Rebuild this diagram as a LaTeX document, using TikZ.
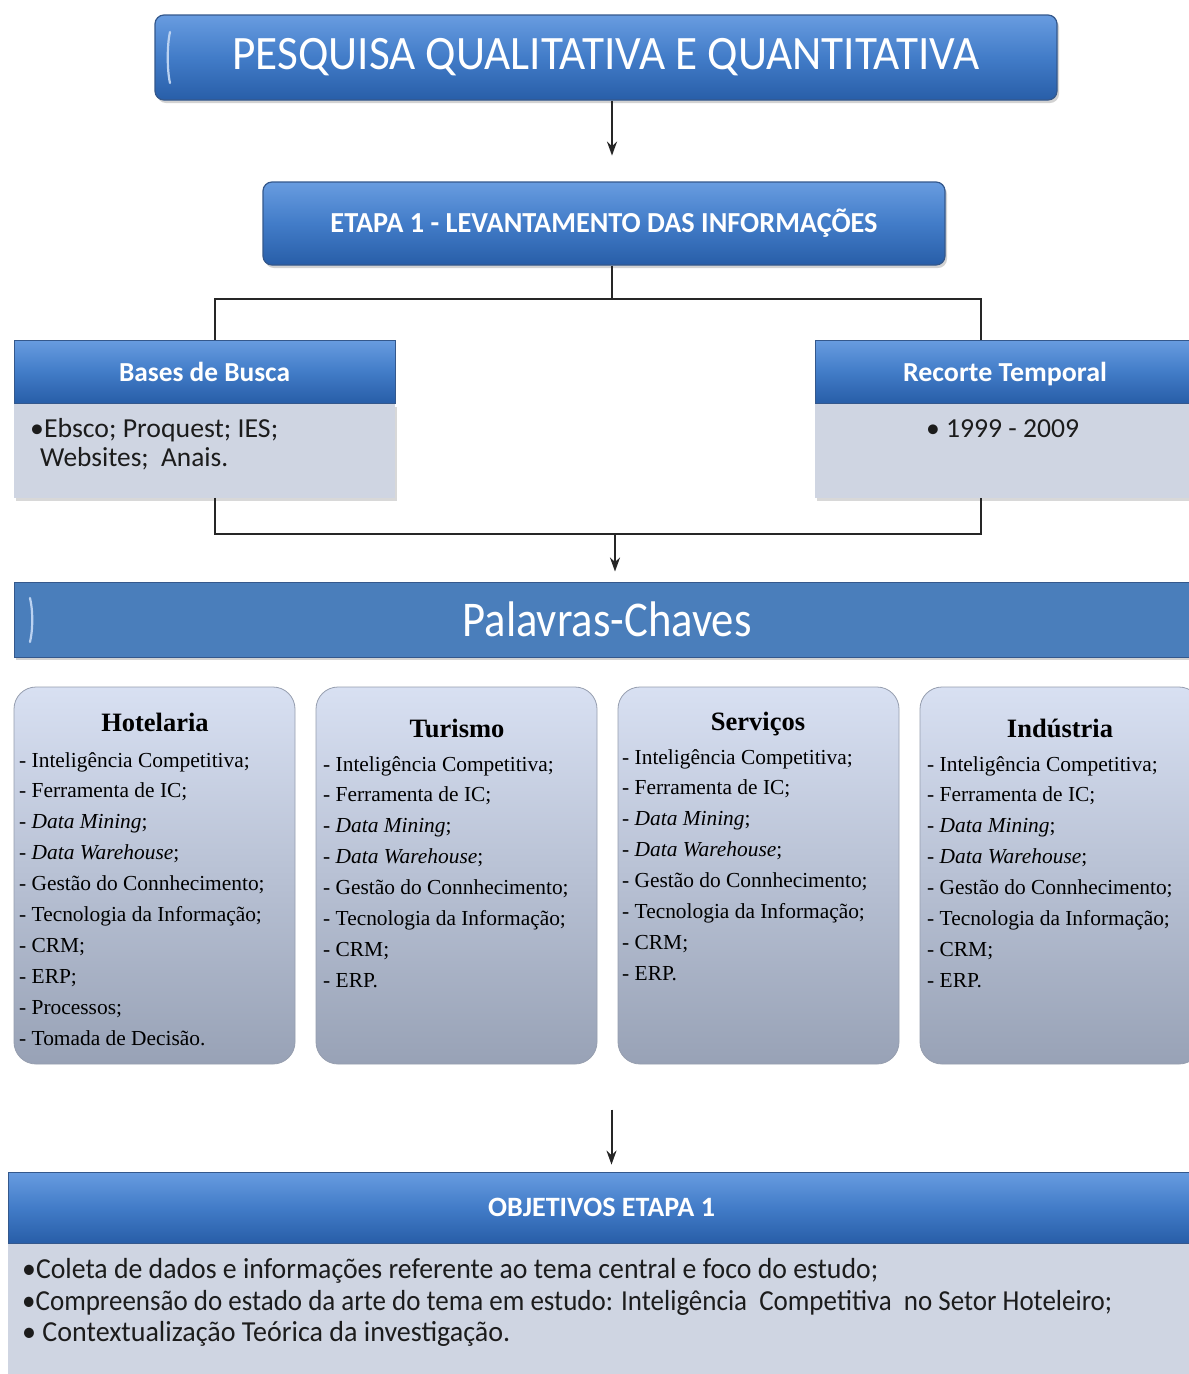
\documentclass[tikz,border=0pt]{standalone}
\usepackage{fontspec}
\usepackage{graphicx}
\setmainfont{Liberation Serif}
\newfontfamily\calfont{Carlito}
\usetikzlibrary{shadows,arrows.meta,calc}
\definecolor{hdtop}{RGB}{104,156,224}
\definecolor{hdmid}{RGB}{66,124,200}
\definecolor{hdbot}{RGB}{40,94,168}
\definecolor{hdedge}{RGB}{52,88,140}
\definecolor{palc}{RGB}{74,126,187}
\definecolor{bodyc}{RGB}{207,213,226}
\definecolor{kwtop}{RGB}{216,224,242}
\definecolor{kwbot}{RGB}{152,162,182}
\definecolor{kwedge}{RGB}{150,158,175}
\definecolor{txtc}{RGB}{28,28,28}
\newcommand\wfit[2]{\resizebox{#1pt}{\height}{#2}}
\newcommand\kwlist[1]{\vtop{\baselineskip=30.9pt\lineskiplimit=-100pt\relax #1}}
\newcommand\li[1]{\hbox{- #1}}
\begin{document}
\begin{tikzpicture}[x=1pt,y=-1pt,
  bigbox/.style={rounded corners=9pt, top color=hdtop, bottom color=hdbot, middle color=hdmid, draw=hdedge, line width=1.2pt, inner sep=0,
     drop shadow={opacity=0.35, shadow xshift=2pt, shadow yshift=-3pt}, text=white},
  hdr/.style={rectangle, top color=hdtop, bottom color=hdbot, middle color=hdmid, draw=hdedge, line width=0.8pt, inner sep=0, text=white, text depth=0pt},
  bodybox/.style={rectangle, fill=bodyc, inner sep=0, drop shadow={opacity=0.3, shadow xshift=2pt, shadow yshift=-3pt}},
  kwbox/.style={rounded corners=22pt, top color=kwtop, bottom color=kwbot, draw=kwedge, line width=0.8pt, inner sep=0},
  kwtitle/.style={anchor=base, inner sep=0, font=\fontsize{26.5}{30}\selectfont\bfseries},
  kwtext/.style={anchor=base west, inner sep=0, font=\fontsize{21.4}{30.9}\selectfont},
  conn/.style={draw=black!85, line width=2pt},
  arr/.style={conn, -{Stealth[length=14pt,width=10pt]}},
  hilite/.style={draw=white!55!hdtop, line width=2.2pt, line cap=round}
]
\clip (0,0) rectangle (1189,1374);
\fill[white] (0,0) rectangle (1189,1374);

% title
\node[bigbox, minimum width=902pt, minimum height=85pt] (title) at (606,57.5)
  {\calfont\fontsize{48}{50}\selectfont\wfit{747}{PESQUISA QUALITATIVA E QUANTITATIVA}};
\draw[hilite] (170,32) .. controls (167,45) and (167,70) .. (170,83);

% etapa
\node[bigbox, minimum width=682pt, minimum height=83pt] (etapa) at (604,223.5)
  {\calfont\bfseries\fontsize{29}{30}\selectfont\wfit{547}{ETAPA 1 - LEVANTAMENTO DAS INFORMAÇÕES}};

\draw[arr] ([xshift=6pt]title.south) -- ++(0,55);

% bases / recorte
\node[hdr, minimum width=381pt, minimum height=63pt] (bhead) at (204.5,371.5)
  {\calfont\bfseries\fontsize{27.5}{30}\selectfont\wfit{171}{Bases de Busca}};
\node[bodybox, minimum width=381pt, minimum height=94pt, anchor=north] (bbody) at (bhead.south) {};
\node[anchor=base west, inner sep=0, text=txtc] (btx1) at (30,437)
  {\calfont\fontsize{27.5}{30}\selectfont\wfit{248}{•Ebsco; Proquest; IES;}};
\node[anchor=base west, inner sep=0, text=txtc] (btx2) at (40,466)
  {\calfont\fontsize{27.5}{30}\selectfont\wfit{188}{Websites;\ \ Anais.}};

\node[hdr, minimum width=380pt, minimum height=63pt] (rhead) at (1005,371.5)
  {\calfont\bfseries\fontsize{27.5}{30}\selectfont\wfit{204}{Recorte Temporal}};
\node[bodybox, minimum width=380pt, minimum height=94pt, anchor=north] (rbody) at (rhead.south) {};
\node[anchor=base west, inner sep=0, text=txtc] (rtx) at (926,437)
  {\calfont\fontsize{27.5}{30}\selectfont\wfit{153}{• 1999 - 2009}};

\draw[conn] ([xshift=8pt]etapa.south) -- ++(0,33) coordinate (j1) -| ([xshift=10.5pt]bhead.north);
\draw[conn] (j1) -| ([xshift=-24pt]rhead.north);

\draw[conn] ([xshift=10.5pt]bbody.south) -- ++(0,36) coordinate (j2) -| ([xshift=-24pt]rbody.south);
\coordinate (j3) at (j2 -| 615,0);

% palavras
\node[rectangle, fill=palc, draw=hdedge, line width=1pt, inner sep=0, text=white,
      minimum width=1186pt, minimum height=75pt,
      drop shadow={opacity=0.35, shadow xshift=2pt, shadow yshift=-3pt}] (pal) at (607,619.5)
  {\calfont\fontsize{50}{52}\selectfont\wfit{289}{Palavras-Chaves}};
\draw[hilite] (30,598) .. controls (33,610) and (33,630) .. (30,642);
\draw[arr] (j3) -- ([yshift=10pt]pal.north -| j3);

% keyword boxes
\node[kwbox, minimum width=281pt, minimum height=377pt] (hot) at (154.5,875.5) {};
\node[kwbox, minimum width=281pt, minimum height=377pt] (tur) at (456.5,875.5) {};
\node[kwbox, minimum width=281pt, minimum height=377pt] (ser) at (758.5,875.5) {};
\node[kwbox, minimum width=281pt, minimum height=377pt] (ind) at (1060.5,875.5) {};

\node[kwtitle] (hott) at (155,731) {Hotelaria};
\node[kwtitle] (turt) at (457,737) {Turismo};
\node[kwtitle] (sert) at (758,730) {Serviços};
\node[kwtitle] (indt) at (1060,737) {Indústria};

\node[kwtext] (hotl) at (19,767) {\kwlist{%
  \li{Inteligência Competitiva;}\li{Ferramenta de IC;}\li{\textit{Data Mining};}%
  \li{\textit{Data Warehouse};}\li{Gestão do Connhecimento;}\li{Tecnologia da Informação;}%
  \li{CRM;}\li{ERP;}\li{Processos;}\li{Tomada de Decisão.}}};
\node[kwtext] (turl) at (323,771) {\kwlist{%
  \li{Inteligência Competitiva;}\li{Ferramenta de IC;}\li{\textit{Data Mining};}%
  \li{\textit{Data Warehouse};}\li{Gestão do Connhecimento;}\li{Tecnologia da Informação;}%
  \li{CRM;}\li{ERP.}}};
\node[kwtext] (serl) at (622,764) {\kwlist{%
  \li{Inteligência Competitiva;}\li{Ferramenta de IC;}\li{\textit{Data Mining};}%
  \li{\textit{Data Warehouse};}\li{Gestão do Connhecimento;}\li{Tecnologia da Informação;}%
  \li{CRM;}\li{ERP.}}};
\node[kwtext] (indl) at (927,771) {\kwlist{%
  \li{Inteligência Competitiva;}\li{Ferramenta de IC;}\li{\textit{Data Mining};}%
  \li{\textit{Data Warehouse};}\li{Gestão do Connhecimento;}\li{Tecnologia da Informação;}%
  \li{CRM;}\li{ERP.}}};

% objetivos
\node[hdr, minimum width=1187pt, minimum height=71pt] (obj) at (601.5,1207.5)
  {\calfont\bfseries\fontsize{28}{30}\selectfont\wfit{227}{OBJETIVOS ETAPA 1}};
\node[bodybox, minimum width=1187pt, minimum height=140pt, anchor=north] (objb) at (obj.south) {};
\draw[arr] ([xshift=10pt,yshift=62pt]obj.north) -- ([xshift=10pt,yshift=7pt]obj.north);

\node[anchor=base west, inner sep=0, text=txtc] (o1) at (22,1278)
  {\calfont\fontsize{29}{30}\selectfont\wfit{856}{•Coleta de dados e informações referente ao tema central e foco do estudo;}};
\node[anchor=base west, inner sep=0, text=txtc] (o2) at (22,1310)
  {\calfont\fontsize{29}{30}\selectfont\wfit{1090}{•Compreensão do estado da arte do tema em estudo: Inteligência\ \ Competitiva\ \ no Setor Hoteleiro;}};
\node[anchor=base west, inner sep=0, text=txtc] (o3) at (22,1341)
  {\calfont\fontsize{29}{30}\selectfont\wfit{488}{• Contextualização Teórica da investigação.}};
\end{tikzpicture}
\end{document}
